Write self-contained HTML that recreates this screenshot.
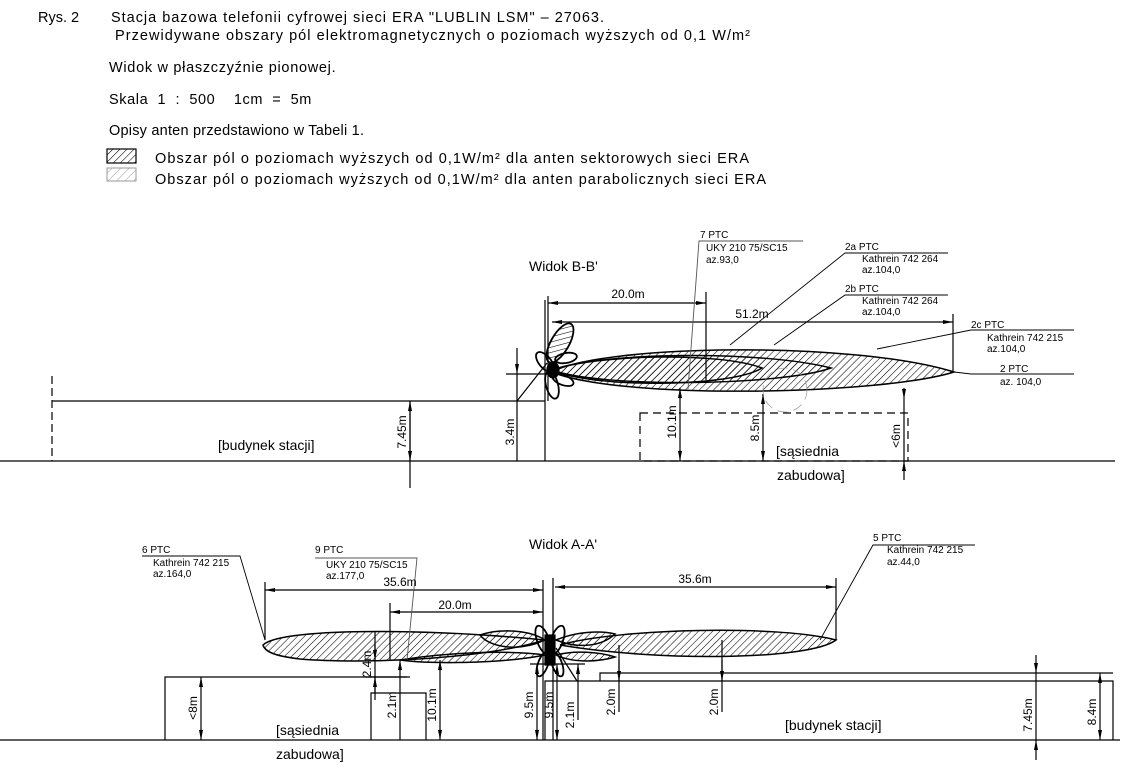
<!DOCTYPE html>
<html><head><meta charset="utf-8"><style>
html,body{margin:0;padding:0;background:#fff;}
svg{display:block;}
text{font-family:"Liberation Sans","DejaVu Sans",sans-serif;fill:#000;}
</style></head><body>
<svg width="1125" height="770" viewBox="0 0 1125 770" xmlns="http://www.w3.org/2000/svg">
<defs>
<pattern id="h" patternUnits="userSpaceOnUse" width="5" height="5" patternTransform="rotate(45)">
<line x1="0" y1="0" x2="0" y2="5" stroke="#000" stroke-width="1.1"/></pattern>
<pattern id="hg" patternUnits="userSpaceOnUse" width="6" height="6" patternTransform="rotate(45)">
<line x1="0" y1="0" x2="0" y2="6" stroke="#999" stroke-width="1"/></pattern>
<marker id="a" viewBox="0 0 10 4" refX="10" refY="2" markerWidth="10" markerHeight="4" orient="auto-start-reverse" markerUnits="userSpaceOnUse"><path d="M0,0L10,2L0,4z" fill="#000"/></marker>
</defs>
<g font-size="14.5">
<text x="38" y="22">Rys. 2</text>
<text x="111" y="22" textLength="493" lengthAdjust="spacing">Stacja bazowa telefonii cyfrowej sieci ERA "LUBLIN LSM" – 27063.</text>
<text x="115" y="40" textLength="635" lengthAdjust="spacing">Przewidywane obszary pól elektromagnetycznych o poziomach wyższych od 0,1 W/m²</text>
<text x="109" y="72" letter-spacing="0.7">Widok w płaszczyźnie pionowej.</text>
<text x="109" y="104" xml:space="preserve" letter-spacing="0.6">Skala  1  :  500    1cm  =  5m</text>
<text x="109" y="135" textLength="255" lengthAdjust="spacing">Opisy anten przedstawiono w Tabeli 1.</text>
<text x="155" y="163" textLength="594" lengthAdjust="spacing">Obszar pól o poziomach wyższych od 0,1W/m² dla anten sektorowych sieci ERA</text>
<text x="155" y="184" textLength="611" lengthAdjust="spacing">Obszar pól o poziomach wyższych od 0,1W/m² dla anten parabolicznych sieci ERA</text>
</g>
<rect x="107" y="149" width="29" height="14" fill="url(#h)" stroke="#000" stroke-width="1.2"/>
<rect x="107" y="168" width="29" height="13" fill="url(#hg)" stroke="#999" stroke-width="1"/>

<!-- TOP VIEW -->
<g stroke="#000" fill="none" stroke-width="1.2">
<line x1="0" y1="461" x2="1115" y2="461"/>
<line x1="52" y1="376" x2="52" y2="461" stroke-dasharray="8,4"/>
<line x1="52" y1="401" x2="545" y2="401"/>
<line x1="545" y1="300" x2="545" y2="461"/>
<line x1="548" y1="296" x2="548" y2="401"/>
<rect x="640" y="413" width="268" height="48" stroke-dasharray="8,5"/>
<path d="M552,372 C600,345 850,340 954,372 C880,395 620,400 552,372Z" fill="url(#h)" stroke-width="1.5"/>
<path d="M552,370 C600,352 760,350 831,368 C780,386 600,388 552,370Z" fill="url(#h)" stroke-width="1.5"/>
<path d="M552,370 C600,354 720,352 762,368 C730,388 590,388 552,370Z" fill="url(#h)" stroke-width="1.5"/>
<ellipse cx="560" cy="343" rx="9" ry="22" transform="rotate(30 560 343)" fill="url(#h)" stroke-width="1.8"/>
<ellipse cx="552" cy="385" rx="6" ry="14" transform="rotate(-15 552 385)" stroke-width="1.8"/>
<ellipse cx="545" cy="362" rx="6" ry="12" transform="rotate(-40 545 362)" stroke-width="1.8"/>
<ellipse cx="566" cy="358" rx="11" ry="5" transform="rotate(-10 566 358)" stroke-width="1.8"/>
<ellipse cx="563" cy="380" rx="11" ry="5" transform="rotate(20 563 380)" stroke-width="1.8"/>
<ellipse cx="553" cy="370" rx="6" ry="8" fill="#000"/>
<line x1="548" y1="303" x2="706" y2="303" marker-start="url(#a)" marker-end="url(#a)"/>
<line x1="706" y1="292" x2="706" y2="380"/>
<line x1="552" y1="322" x2="953" y2="322" marker-start="url(#a)" marker-end="url(#a)"/>
<line x1="953" y1="314" x2="953" y2="373"/>
<line x1="680" y1="388" x2="680" y2="461" marker-end="url(#a)" marker-start="url(#a)"/>
<line x1="763" y1="394" x2="763" y2="461" marker-end="url(#a)" marker-start="url(#a)"/>
<line x1="904" y1="388" x2="904" y2="399" marker-end="url(#a)"/>
<line x1="904" y1="399" x2="904" y2="461"/>
<line x1="904" y1="480" x2="904" y2="461" marker-end="url(#a)"/>
<line x1="410" y1="401" x2="410" y2="488" />
<line x1="410" y1="401" x2="410" y2="461" marker-start="url(#a)" marker-end="url(#a)"/>
<line x1="517" y1="348" x2="517" y2="374" marker-end="url(#a)"/>
<line x1="517" y1="374" x2="517" y2="461"/>
<line x1="506" y1="374" x2="548" y2="374"/>
<line x1="517" y1="401" x2="547" y2="363"/>
<g stroke-width="0.9">
<polyline points="803,241 699,241 688,389" stroke="#555"/>
<polyline points="948,253 845,253 730,345"/>
<polyline points="948,295 845,295 774,345"/>
<polyline points="1074,330 971,330 877,349"/>
<polyline points="1074,374 971,374 954,372"/>
</g>
<circle cx="785" cy="390" r="22" stroke="#999" stroke-width="0.7" stroke-dasharray="10,6"/>
</g>
<g font-size="10">
<text x="700" y="238" fill="#555">7 PTC</text>
<text x="706" y="251" fill="#555">UKY 210 75/SC15</text>
<text x="706" y="263" fill="#555">az.93,0</text>
<text x="845" y="250">2a PTC</text>
<text x="862" y="262">Kathrein 742 264</text>
<text x="862" y="273">az.104,0</text>
<text x="845" y="292">2b PTC</text>
<text x="862" y="304">Kathrein 742 264</text>
<text x="862" y="315">az.104,0</text>
<text x="971" y="328">2c PTC</text>
<text x="987" y="341">Kathrein 742 215</text>
<text x="987" y="352">az.104,0</text>
<text x="1000" y="372">2 PTC</text>
<text x="1000" y="385">az. 104,0</text>
</g>
<g font-size="14">
<text x="529" y="271">Widok B-B'</text>
<text x="218" y="450">[budynek stacji]</text>
<text x="776" y="456">[sąsiednia</text>
<text x="777" y="480">zabudowa]</text>
</g>
<g font-size="12">
<text x="628" y="298" text-anchor="middle">20.0m</text>
<text x="752" y="318" text-anchor="middle">51.2m</text>
<text transform="translate(406,432) rotate(-90)" text-anchor="middle">7.45m</text>
<text transform="translate(514,432) rotate(-90)" text-anchor="middle">3.4m</text>
<text transform="translate(676,422) rotate(-90)" text-anchor="middle">10.1m</text>
<text transform="translate(759,428) rotate(-90)" text-anchor="middle">8.5m</text>
<text transform="translate(900,436) rotate(-90)" text-anchor="middle">&lt;6m</text>
</g>

<!-- BOTTOM VIEW -->
<g stroke="#000" fill="none" stroke-width="1.2">
<line x1="0" y1="740" x2="1120" y2="740"/>
<polyline points="165,740 165,677 407,677"/>
<polyline points="371,740 371,693 426,693 426,740"/>
<polyline points="545,740 545,681 1113,681 1113,740"/>
<polyline points="600,681 600,673 1113,673"/>
<line x1="543" y1="580" x2="543" y2="740"/>
<line x1="553" y1="578" x2="553" y2="740"/>
<path d="M263,645 C280,628 420,628 545,640 C480,660 360,664 300,659 C275,656 265,652 263,645Z" fill="url(#h)" stroke-width="1.5"/>
<path d="M560,645 C620,628 780,625 836,640 C810,660 660,662 560,645Z" fill="url(#h)" stroke-width="1.5"/>
<path d="M480,635 C500,628 530,630 545,640 C520,652 490,648 480,635Z" fill="url(#h)" stroke-width="1.5"/>
<path d="M400,660 C450,652 510,650 545,655 C500,664 430,664 400,660Z" fill="url(#h)" stroke-width="1.5"/>
<path d="M556,640 C575,632 600,630 615,634 C600,648 575,648 556,640Z" fill="url(#h)" stroke-width="1.5"/>
<path d="M556,655 C575,650 600,652 615,657 C595,663 570,662 556,655Z" fill="url(#h)" stroke-width="1.5"/>
<ellipse cx="543" cy="640" rx="6" ry="15" transform="rotate(-20 543 640)" stroke-width="1.8"/>
<ellipse cx="557" cy="640" rx="6" ry="15" transform="rotate(20 557 640)" stroke-width="1.8"/>
<ellipse cx="543" cy="664" rx="5" ry="13" transform="rotate(20 543 664)" stroke-width="1.8"/>
<ellipse cx="557" cy="664" rx="5" ry="13" transform="rotate(-20 557 664)" stroke-width="1.8"/>
<rect x="545" y="635" width="10" height="30" fill="#000"/>
<line x1="265" y1="590" x2="543" y2="590" marker-start="url(#a)" marker-end="url(#a)"/>
<line x1="265" y1="582" x2="265" y2="640"/>
<line x1="390" y1="612" x2="543" y2="612" marker-start="url(#a)" marker-end="url(#a)"/>
<line x1="390" y1="603" x2="390" y2="660"/>
<line x1="555" y1="587" x2="836" y2="587" marker-start="url(#a)" marker-end="url(#a)"/>
<line x1="836" y1="578" x2="836" y2="640"/>
<line x1="201" y1="677" x2="201" y2="740" marker-start="url(#a)" marker-end="url(#a)"/>
<line x1="375" y1="632" x2="375" y2="700"/>
<line x1="375" y1="645" x2="375" y2="660" marker-end="url(#a)"/>
<line x1="375" y1="693" x2="375" y2="677" marker-end="url(#a)"/>
<line x1="365" y1="677" x2="410" y2="677"/>
<line x1="400" y1="660" x2="400" y2="740" marker-start="url(#a)"/>
<line x1="440" y1="660" x2="440" y2="740" marker-start="url(#a)" marker-end="url(#a)"/>
<line x1="537" y1="664" x2="537" y2="740" marker-start="url(#a)" marker-end="url(#a)"/>
<line x1="557" y1="664" x2="557" y2="740" marker-start="url(#a)" marker-end="url(#a)"/>
<line x1="530" y1="664" x2="585" y2="664"/>
<line x1="578" y1="664" x2="578" y2="720" marker-start="url(#a)"/>
<line x1="556" y1="648" x2="577" y2="681"/>
<line x1="619" y1="645" x2="619" y2="712"/>
<line x1="619" y1="660" x2="619" y2="681" marker-end="url(#a)"/>
<line x1="722" y1="640" x2="722" y2="712"/>
<line x1="722" y1="660" x2="722" y2="681" marker-end="url(#a)"/>
<line x1="1036" y1="655" x2="1036" y2="673" marker-end="url(#a)"/>
<line x1="1036" y1="673" x2="1036" y2="740"/>
<line x1="1036" y1="760" x2="1036" y2="740" marker-end="url(#a)"/>
<line x1="1100" y1="673" x2="1100" y2="740" marker-start="url(#a)" marker-end="url(#a)"/>
<g stroke-width="0.9">
<polyline points="142,556 240,556 265,640"/>
<polyline points="315,558 417,558 407,660" stroke="#555"/>
<polyline points="975,545 873,545 820,640"/>
</g>
</g>
<g font-size="10">
<text x="142" y="553">6 PTC</text>
<text x="153" y="566">Kathrein 742 215</text>
<text x="153" y="577">az.164,0</text>
<text x="315" y="553" fill="#555">9 PTC</text>
<text x="326" y="568" fill="#555">UKY 210 75/SC15</text>
<text x="326" y="579" fill="#555">az.177,0</text>
<text x="873" y="541">5 PTC</text>
<text x="887" y="553">Kathrein 742 215</text>
<text x="887" y="565">az.44,0</text>
</g>
<g font-size="14">
<text x="529" y="549">Widok A-A'</text>
<text x="276" y="735">[sąsiednia</text>
<text x="276" y="759">zabudowa]</text>
<text x="785" y="730">[budynek stacji]</text>
</g>
<g font-size="12">
<text x="400" y="586" text-anchor="middle">35.6m</text>
<text x="455" y="609" text-anchor="middle">20.0m</text>
<text x="695" y="583" text-anchor="middle">35.6m</text>
<text transform="translate(197,708) rotate(-90)" text-anchor="middle">&lt;8m</text>
<text transform="translate(371,664) rotate(-90)" text-anchor="middle">2.4m</text>
<text transform="translate(396,705) rotate(-90)" text-anchor="middle">2.1m</text>
<text transform="translate(436,705) rotate(-90)" text-anchor="middle">10.1m</text>
<text transform="translate(533,705) rotate(-90)" text-anchor="middle">9.5m</text>
<text transform="translate(553,705) rotate(-90)" text-anchor="middle">9.5m</text>
<text transform="translate(574,715) rotate(-90)" text-anchor="middle">2.1m</text>
<text transform="translate(615,702) rotate(-90)" text-anchor="middle">2.0m</text>
<text transform="translate(718,702) rotate(-90)" text-anchor="middle">2.0m</text>
<text transform="translate(1032,715) rotate(-90)" text-anchor="middle">7.45m</text>
<text transform="translate(1096,712) rotate(-90)" text-anchor="middle">8.4m</text>
</g>
</svg>
</body></html>
